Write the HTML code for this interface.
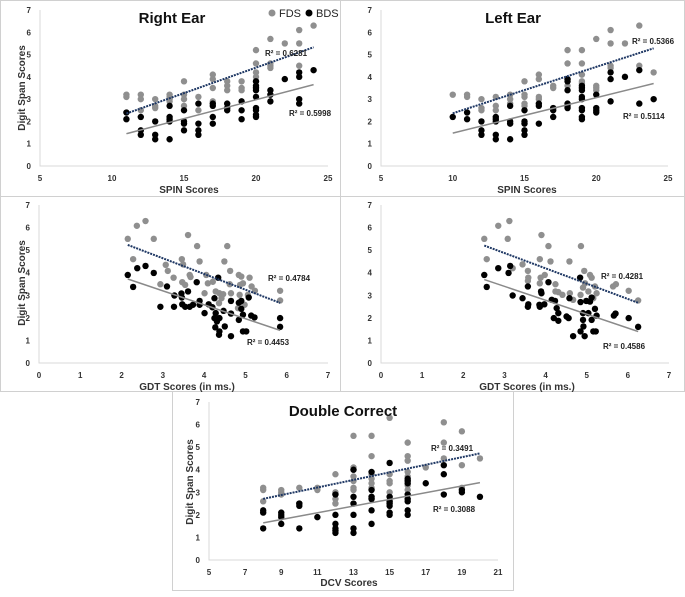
<!DOCTYPE html>
<html><head><meta charset="utf-8"><style>
body{margin:0;background:#fff;font-family:"Liberation Sans",sans-serif}
svg text{font-family:"Liberation Sans",sans-serif}
</style></head><body>
<svg id="fig" width="685" height="592" viewBox="0 0 685 592" xmlns="http://www.w3.org/2000/svg">
<rect x="0" y="0" width="685" height="592" fill="#fff"/>
<g fill="none" stroke="#d0d0d0" stroke-width="1">
<rect x="0.5" y="0.5" width="340" height="196"/>
<rect x="340.5" y="0.5" width="344" height="196"/>
<rect x="0.5" y="196.5" width="340" height="195"/>
<rect x="340.5" y="196.5" width="344" height="195"/>
<rect x="172.5" y="391.5" width="341" height="199"/>
</g>
</svg>
<script>
// ---- Right Ear (SPIN) ----
const reFdsX=[11,11,12,12,12,13,13,13,14,14,14,14,15,15,15,15,16,16,17,17,17,17,18,18,18,19,19,19,20,20,20,20,20,21,21,21,21,22,23,23,23,24];
const reFdsY=[3.2,3.1,3.2,3.0,2.5,3.0,2.7,2.6,3.2,3.1,3.0,2.9,3.8,3.2,3.0,2.7,3.1,2.5,4.1,3.9,3.5,2.9,3.8,3.6,3.4,3.8,3.5,3.4,5.2,4.6,4.2,4.0,3.8,5.7,4.6,4.5,4.4,5.5,6.1,5.5,4.5,6.3];
const reBdsX=[11,11,12,12,12,13,13,13,14,14,14,14,14,15,15,15,15,16,16,16,16,17,17,17,17,18,18,18,19,19,19,20,20,20,20,20,20,20,20,20,21,21,21,22,23,23,23,23,24];
const reBdsY=[2.4,2.1,2.2,1.6,1.4,2.0,1.4,1.2,2.7,2.2,2.1,2.0,1.2,2.5,2.0,1.9,1.6,2.8,1.9,1.6,1.4,2.8,2.7,2.2,1.9,2.8,2.6,2.5,2.9,2.5,2.1,3.8,3.6,3.5,3.4,3.1,2.6,2.5,2.3,2.2,3.4,3.2,2.9,3.9,4.2,4.0,3.0,2.8,4.3];
// ---- Left Ear (SPIN) ----
const leFdsX=[10,11,11,12,12,12,13,13,13,14,14,14,15,15,15,15,15,16,16,16,16,17,17,18,18,18,18,19,19,19,19,19,20,20,20,20,21,21,21,21,22,23,23,24];
const leFdsY=[3.2,3.2,3.1,3.0,2.6,2.5,3.1,2.7,2.5,3.2,3.0,2.8,3.8,3.2,3.1,2.8,2.7,4.1,3.9,3.1,3.0,3.6,3.5,5.2,4.6,3.9,3.6,5.2,4.6,4.1,3.8,3.7,5.7,3.6,3.5,3.4,6.1,5.5,4.5,4.4,5.5,6.3,4.5,4.2];
const leBdsX=[10,11,11,12,12,12,13,13,13,13,13,14,14,14,14,15,15,15,15,15,16,16,16,17,17,17,18,18,18,18,18,18,19,19,19,19,19,19,19,19,19,20,20,20,20,21,21,21,22,23,23,24];
const leBdsY=[2.2,2.4,2.1,2.0,1.6,1.4,2.2,2.1,2.0,1.4,1.2,2.7,2.0,1.9,1.2,2.5,2.0,1.9,1.6,1.4,2.8,2.7,1.9,2.6,2.5,2.2,3.9,3.8,3.4,2.8,2.7,2.6,3.6,3.5,3.4,3.1,3.0,2.6,2.5,2.2,2.1,3.2,2.6,2.5,2.4,4.2,3.9,2.9,4.0,4.3,2.8,3.0];
// ---- GDT Right ----
const grFdsX=[2.15,2.37,2.58,2.28,2.78,3.61,3.83,4.56,3.89,4.49,3.46,3.49,3.07,3.12,3.26,2.94,3.47,3.54,3.65,3.67,4.01,4.09,4.21,4.28,4.37,4.36,4.46,4.63,4.62,4.84,4.9,4.87,4.94,4.86,5.06,5.1,5.15,5.23,4.98,5.84,5.84,4.65,4.82,4.42,4.05];
const grFdsY=[5.5,6.08,6.29,4.6,5.5,5.67,5.18,5.18,4.5,4.5,4.6,4.37,4.35,4.08,3.78,3.49,3.58,3.46,3.9,3.81,3.09,3.53,3.6,3.17,3.09,2.65,3.05,4.08,3.49,3.9,3.83,3.46,3.53,3.02,3.02,3.78,3.39,3.2,2.58,3.2,2.77,3.09,2.43,2.87,3.9];
const grBdsX=[2.15,2.28,2.38,2.58,2.78,2.94,3.1,3.27,3.28,3.45,3.46,3.47,3.54,3.61,3.65,3.73,3.82,3.89,3.89,4.01,4.11,4.2,4.25,4.28,4.25,4.31,4.37,4.34,4.27,4.36,4.37,4.47,4.5,4.65,4.65,4.65,4.84,4.84,4.9,4.9,4.94,4.94,5.02,5.08,5.14,5.22,5.84,5.84];
const grBdsY=[3.9,3.37,4.2,4.3,3.99,2.49,3.39,2.49,2.99,3.08,2.9,2.6,2.49,3.17,2.49,2.58,3.58,2.75,2.58,2.21,2.6,2.47,2.87,2.21,1.99,1.84,1.99,3.78,1.58,1.25,1.4,2.31,1.62,2.75,2.19,1.19,2.67,1.91,2.75,2.4,2.14,1.4,1.4,2.9,2.1,2.02,1.99,1.6];
// ---- GDT Left ----
const glFdsX=[2.51,2.57,2.85,3.12,3.08,3.2,3.44,3.57,3.58,3.57,3.9,4.07,3.86,4.12,4.58,4.86,3.88,3.86,3.98,4.24,4.24,4.31,4.41,4.59,4.67,4.94,5.08,5.12,4.96,4.91,5.04,5.2,5.24,5.64,5.71,6.02,6.25,4.85,5.16];
const glFdsY=[5.5,4.6,6.08,6.29,5.5,4.2,4.37,4.08,3.78,3.64,5.67,5.18,4.6,4.5,4.5,5.18,3.78,3.53,3.9,3.49,3.17,3.14,3.02,3.09,2.8,4.08,3.9,3.78,3.53,3.34,3.17,3.39,3.09,3.39,3.49,3.2,2.77,3.02,2.87];
const glBdsX=[2.51,2.57,2.85,3.1,3.14,3.2,3.44,3.57,3.57,3.58,3.85,3.89,3.9,3.86,3.97,4.07,4.15,4.2,4.23,4.27,4.31,4.31,4.51,4.56,4.58,4.67,4.84,4.85,4.85,4.91,4.91,4.92,4.95,4.99,5.04,5.12,5.08,5.12,5.16,5.22,5.2,5.24,5.66,5.7,6.02,6.25];
const glBdsY=[3.9,3.37,4.2,3.99,4.3,2.99,2.87,3.39,2.49,2.6,2.58,3.17,3.09,2.49,2.6,3.58,2.8,1.99,2.75,2.43,1.87,2.21,2.06,1.99,2.87,1.19,3.78,2.7,1.4,2.21,1.91,1.62,1.19,2.75,2.21,2.9,2.72,1.91,1.4,1.4,2.4,2.1,2.1,2.19,1.99,1.6];
// ---- Double Correct (DCV) ----
const dcFdsX=[8,8,8,9,9,9,10,10,11,11,12,12,12,12,12,13,13,13,13,13,13,13,14,14,14,14,14,14,14,14,15,15,15,15,15,15,15,16,16,16,16,16,16,16,16,17,18,18,18,19,19,19,20];
const dcFdsY=[3.2,3.1,2.6,3.1,3.0,2.9,3.2,2.5,3.2,3.1,3.8,3.0,2.9,2.7,2.5,5.5,4.1,4.0,3.7,3.5,3.2,3.1,5.5,4.6,3.8,3.6,3.4,3.2,2.8,2.7,6.3,3.8,3.5,3.4,3.0,2.8,2.6,5.2,4.6,4.4,3.9,3.7,3.5,3.3,3.1,4.1,6.1,5.2,4.5,5.7,4.2,3.2,4.5];
const dcBdsX=[8,8,8,9,9,9,9,10,10,10,11,12,12,12,12,12,12,13,13,13,13,13,13,14,14,14,14,14,14,15,15,15,15,15,15,15,16,16,16,16,16,16,16,16,17,18,18,18,19,19,20];
const dcBdsY=[2.2,2.1,1.4,2.1,2.0,1.9,1.6,2.5,2.4,1.4,1.9,2.9,2.0,1.6,1.4,1.3,1.2,4.0,2.8,2.5,2.0,1.4,1.2,3.9,3.1,2.8,2.7,2.2,1.6,4.3,2.8,2.6,2.5,2.4,2.1,2.0,3.6,3.5,3.4,2.9,2.7,2.6,2.2,2.0,3.4,4.2,3.8,2.9,3.1,3.0,2.8];
// ---- labels ----
const r2Labels=[["R² = 0.6281","R² = 0.5998"],["R² = 0.5366","R² = 0.5114"],["R² = 0.4784","R² = 0.4453"],["R² = 0.4281","R² = 0.4586"],["R² = 0.3491","R² = 0.3088"]];
const yTicks=[0,1,2,3,4,5,6,7];
const spinTicks=[5,10,15,20,25];
const gdtTicks=[0,1,2,3,4,5,6,7];
const dcvTicks=[5,7,9,11,13,15,17,19,21];

const NS="http://www.w3.org/2000/svg";
const svg=document.getElementById('fig');
function mk(tag,attrs,parent){const e=document.createElementNS(NS,tag);for(const k in attrs)e.setAttribute(k,attrs[k]);(parent||svg).appendChild(e);return e;}
function fit(xs,ys){const n=xs.length;let sx=0,sy=0,sxx=0,sxy=0;for(let i=0;i<n;i++){sx+=xs[i];sy+=ys[i];sxx+=xs[i]*xs[i];sxy+=xs[i]*ys[i];}const b=(n*sxy-sx*sy)/(n*sxx-sx*sx);return {b:b,a:(sy-b*sx)/n};}

function panel(p){
  const g=mk('g',{});
  
  
  const X=v=>p.x0+(v-p.xmin)/(p.xmax-p.xmin)*(p.x1-p.x0);
  const Y=v=>p.y0-(v/7)*(p.y0-p.y1);
  const ax=mk('path',{d:`M${p.x0} ${p.y1} V${p.y0} H${p.x1}`,fill:'none',stroke:'#d9d9d9','stroke-width':1},g);
  
  
  yTicks.forEach(t=>{const e=mk('text',{x:p.x0-9,y:Y(t)+3,'font-size':8,'font-weight':'bold','text-anchor':'end',fill:'#333'},g);e.textContent=t;
    
    });
  p.xt.forEach(t=>{const e=mk('text',{x:X(t),y:p.y0+15,'font-size':8,'font-weight':'bold','text-anchor':'middle',fill:'#333'},g);e.textContent=t;
    
    });
  p.fx.forEach((v,i)=>{const c=mk('circle',{cx:X(v),cy:Y(p.fy[i]),r:3.2,fill:'#8f8f8f'},g);
    
    });
  p.bx.forEach((v,i)=>{const c=mk('circle',{cx:X(v),cy:Y(p.by[i]),r:3.2,fill:'#000'},g);
    
    });
  const f1=fit(p.fx,p.fy),f2=fit(p.bx,p.by);
  const lo1=Math.min(...p.fx),hi1=Math.max(...p.fx),lo2=Math.min(...p.bx),hi2=Math.max(...p.bx);
  const l2=mk('line',{x1:X(lo2),y1:Y(f2.a+f2.b*lo2),x2:X(hi2),y2:Y(f2.a+f2.b*hi2),stroke:'#8a8a8a','stroke-width':1.5},g);
  
  
  const l1=mk('line',{x1:X(lo1),y1:Y(f1.a+f1.b*lo1),x2:X(hi1),y2:Y(f1.a+f1.b*hi1),stroke:'#1f3864','stroke-width':2,'stroke-dasharray':'2 1'},g);
  
  
  const r1=mk('text',{x:p.r1[0],y:p.r1[1]+3,'font-size':8,'font-weight':'bold',fill:'#222'},g);r1.textContent=p.r[0];
  
  
  const r2=mk('text',{x:p.r2[0],y:p.r2[1]+3,'font-size':8,'font-weight':'bold',fill:'#222'},g);r2.textContent=p.r[1];
  
  
  const xl=mk('text',{x:p.xl[0],y:p.xl[1],'font-size':10,'font-weight':'bold','text-anchor':'middle',fill:'#333'},g);xl.textContent=p.xlabel;
  
  
  if(p.yl){const yl=mk('text',{x:0,y:0,'font-size':10,'font-weight':'bold','text-anchor':'middle',fill:'#333',transform:`translate(${p.yl[0]},${p.yl[1]}) rotate(-90)`},g);yl.textContent='Digit Span Scores';
    
    }
  if(p.title){const t=mk('text',{x:p.title[0],y:p.title[1],'font-size':15,'font-weight':'bold','text-anchor':'middle',fill:'#111'},g);t.textContent=p.title[2];
    
    }
}
panel({name:'right-ear-panel',x0:40,x1:328,y0:166,y1:10,xmin:5,xmax:25,xt:spinTicks,fx:reFdsX,fy:reFdsY,bx:reBdsX,by:reBdsY,r:r2Labels[0],r1:[265,53],r2:[289,113],xlabel:'SPIN Scores',xl:[189,193],yl:[25,88],title:[172,23,'Right Ear']});
panel({name:'left-ear-panel',x0:381,x1:668,y0:166,y1:10,xmin:5,xmax:25,xt:spinTicks,fx:leFdsX,fy:leFdsY,bx:leBdsX,by:leBdsY,r:r2Labels[1],r1:[632,41],r2:[623,116],xlabel:'SPIN Scores',xl:[527,193],title:[513,23,'Left Ear']});
panel({name:'gdt-right-panel',x0:39,x1:328,y0:363,y1:205,xmin:0,xmax:7,xt:gdtTicks,fx:grFdsX,fy:grFdsY,bx:grBdsX,by:grBdsY,r:r2Labels[2],r1:[268,278],r2:[247,342],xlabel:'GDT Scores (in ms.)',xl:[187,390],yl:[25,283]});
panel({name:'gdt-left-panel',x0:381,x1:669,y0:363,y1:205,xmin:0,xmax:7,xt:gdtTicks,fx:glFdsX,fy:glFdsY,bx:glBdsX,by:glBdsY,r:r2Labels[3],r1:[601,276],r2:[603,346],xlabel:'GDT Scores (in ms.)',xl:[527,390]});
panel({name:'double-correct-panel',x0:209,x1:498,y0:560,y1:402,xmin:5,xmax:21,xt:dcvTicks,fx:dcFdsX,fy:dcFdsY,bx:dcBdsX,by:dcBdsY,r:r2Labels[4],r1:[431,448],r2:[433,509],xlabel:'DCV Scores',xl:[349,586],yl:[193,482],title:[343,416,'Double Correct']});

// legend
const lg=mk('g',{});


const c1=mk('circle',{cx:272,cy:13,r:3.5,fill:'#8f8f8f'},lg);


const t1=mk('text',{x:279,y:17,'font-size':11,fill:'#222'},lg);t1.textContent='FDS';


const c2=mk('circle',{cx:309,cy:13,r:3.5,fill:'#000'},lg);


const t2=mk('text',{x:316,y:17,'font-size':11,fill:'#222'},lg);t2.textContent='BDS';


</script>
</body></html>
